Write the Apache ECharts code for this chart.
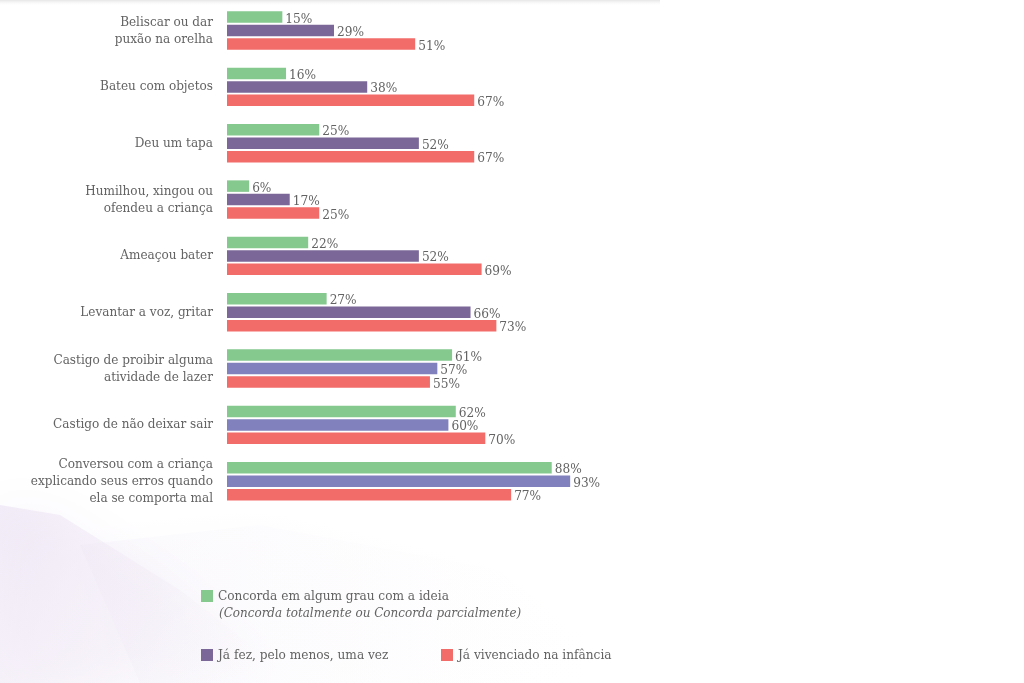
<!DOCTYPE html>
<html>
<head>
<meta charset="utf-8">
<script src="https://cdn.jsdelivr.net/npm/echarts@6/dist/echarts.min.js"></script>
<style>
html,body{margin:0;padding:0;background:#fff;}
#chart{width:1024px;height:683px;}
</style>
</head>
<body>
<div id="chart"></div>
<script>
const categories = [
  "Beliscar ou dar\npuxão na orelha",
  "Bateu com objetos",
  "Deu um tapa",
  "Humilhou, xingou ou\nofendeu a criança",
  "Ameaçou bater",
  "Levantar a voz, gritar",
  "Castigo de proibir alguma\natividade de lazer",
  "Castigo de não deixar sair",
  "Conversou com a criança\nexplicando seus erros quando\nela se comporta mal"
];
const seriesNames = [
  "Concorda em algum grau com a ideia",
  "Já fez, pelo menos, uma vez",
  "Já vivenciado na infância"
];
const concorda = [15, 16, 25, 6, 22, 27, 61, 62, 88];
const jaFez = [29, 38, 52, 17, 52, 66, 57, 60, 93];
const vivenciado = [51, 67, 67, 25, 69, 73, 55, 70, 77];
const legendNote = "(Concorda totalmente ou Concorda parcialmente)";

const FONT = '"DejaVu Serif Condensed", "DejaVu Serif", "Liberation Serif", serif';
const TEXT = '#636363';
const GREEN = '#86c98f';
const PURPLE = '#7b6898';
const PURPLE_LIGHT = '#8181bd';
const RED = '#f26d69';

const chart = echarts.init(document.getElementById('chart'), null, {renderer: 'canvas'});

const labelCfg = {
  show: true,
  position: 'right',
  distance: 3,
  offset: [0, 2],
  formatter: '{c}%',
  color: TEXT,
  fontFamily: FONT,
  fontSize: 13.5
};

const legendText = {color: TEXT, fontFamily: FONT, fontSize: 13.5};

const option = {
  backgroundColor: '#ffffff',
  animation: false,
  graphic: [
    {
      type: 'rect', left: 0, top: 0, silent: true, z: -10,
      shape: {width: 660, height: 6},
      style: {fill: new echarts.graphic.LinearGradient(0, 0, 0, 1, [
        {offset: 0, color: '#e6e6e6'}, {offset: 1, color: 'rgba(255,255,255,0)'}
      ])}
    },
    {
      type: 'polygon', silent: true, z: -10,
      shape: {points: [[0, 505], [60, 515], [180, 590], [300, 683], [0, 683]]},
      style: {
        fill: new echarts.graphic.LinearGradient(0, 0, 1, 1, [
          {offset: 0, color: 'rgba(232,222,242,0.55)'},
          {offset: 0.5, color: 'rgba(240,232,244,0.35)'},
          {offset: 1, color: 'rgba(255,255,255,0)'}
        ]),
        shadowBlur: 40, shadowColor: 'rgba(232,222,242,0.6)'
      }
    },
    {
      type: 'polygon', silent: true, z: -11,
      shape: {points: [[80, 545], [260, 525], [500, 570], [640, 683], [140, 683]]},
      style: {
        fill: new echarts.graphic.LinearGradient(0, 0, 1, 0, [
          {offset: 0, color: 'rgba(242,238,247,0.35)'},
          {offset: 1, color: 'rgba(255,255,255,0)'}
        ]),
        shadowBlur: 40, shadowColor: 'rgba(242,238,247,0.4)'
      }
    },
    {
      type: 'text', left: 219, top: 607,
      style: {text: legendNote, fill: TEXT, fontFamily: FONT, fontSize: 13.3, fontStyle: 'italic'}
    }
  ],
  legend: [
    {
      left: 201, top: 589, padding: 0, itemWidth: 12, itemHeight: 12, icon: 'rect',
      textStyle: legendText,
      data: [{name: seriesNames[0], itemStyle: {color: GREEN}}]
    },
    {
      left: 201, top: 648, padding: 0, itemWidth: 12, itemHeight: 12, icon: 'rect',
      textStyle: legendText,
      data: [{name: seriesNames[1], itemStyle: {color: PURPLE}}]
    },
    {
      left: 441, top: 648, padding: 0, itemWidth: 12, itemHeight: 12, icon: 'rect',
      textStyle: legendText,
      data: [{name: seriesNames[2], itemStyle: {color: RED}}]
    }
  ],
  grid: {left: 227, top: 2.4, width: 369, height: 507, containLabel: false},
  xAxis: {
    type: 'value', min: 0, max: 100, show: false
  },
  yAxis: {
    type: 'category', data: categories, inverse: true,
    axisLine: {show: false}, axisTick: {show: false}, splitLine: {show: false},
    axisLabel: {
      margin: 14, color: TEXT, fontFamily: FONT, fontSize: 13.4, lineHeight: 17, align: 'right'
    }
  },
  series: [
    {
      name: seriesNames[0], type: 'bar', data: concorda,
      barWidth: 11.5, barGap: '17%',
      itemStyle: {color: GREEN},
      label: labelCfg
    },
    {
      name: seriesNames[1], type: 'bar', data: jaFez,
      barWidth: 11.5, barGap: '17%',
      itemStyle: {color: p => p.dataIndex >= 6 ? PURPLE_LIGHT : PURPLE},
      label: labelCfg
    },
    {
      name: seriesNames[2], type: 'bar', data: vivenciado,
      barWidth: 11.5, barGap: '17%',
      itemStyle: {color: RED},
      label: labelCfg
    }
  ]
};
chart.setOption(option);
</script>
</body>
</html>
